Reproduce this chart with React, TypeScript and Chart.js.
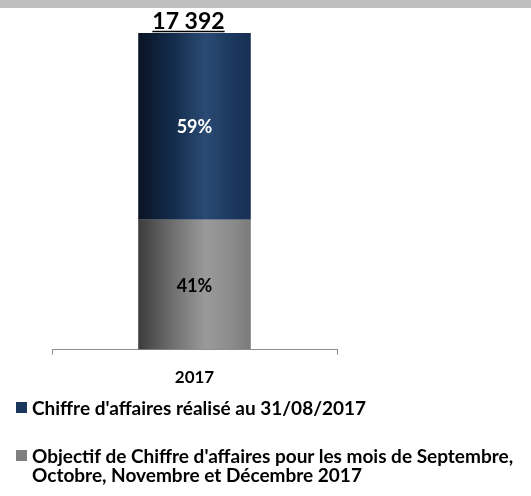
import React, { useEffect, useRef } from "react";
import { Chart, registerables } from "chart.js";
Chart.register(...registerables);

const categories = ["2017"];
const realise = [10261];
const objectif = [7131];
const labelRealise = "Chiffre d'affaires réalisé au 31/08/2017";
const labelObjectif = "Objectif de Chiffre d'affaires pour les mois de Septembre,\nOctobre, Novembre et Décembre 2017";

const FONT = "Lato, 'Open Sans', sans-serif";
const CAT_PCT = 1;
const BAR_PCT = 0.395;
const NAVY = "#1b365c";
const GREY = "#7f7f7f";

const navyStops: [number, string][] = [
  [0, "#0a1424"],
  [0.3, "#132b4b"],
  [0.6, "#2b4b74"],
  [0.8, "#1d3a61"],
  [1, "#172f52"],
];
const greyStops: [number, string][] = [
  [0, "#3c3c3c"],
  [0.3, "#6e6e6e"],
  [0.6, "#9a9a9a"],
  [0.85, "#8a8a8a"],
  [1, "#7a7a7a"],
];

const makeGrad = (stops: [number, string][], fallback: string) => (ctx: any) => {
  const chart = ctx.chart;
  const ca = chart.chartArea;
  const xs = chart.scales && chart.scales.x;
  if (!ca || !xs || ctx.dataIndex === undefined) return fallback;
  const cx = xs.getPixelForValue(ctx.dataIndex);
  const w = ((ca.right - ca.left) / categories.length) * CAT_PCT * BAR_PCT;
  const g = chart.ctx.createLinearGradient(cx - w / 2, 0, cx + w / 2, 0);
  stops.forEach(([o, c]) => g.addColorStop(o, c));
  return g;
};

const fmt = (n: number) => String(Math.round(n)).replace(/\B(?=(\d{3})+(?!\d))/g, " ");

const labelsPlugin = {
  id: "customLabels",
  beforeDraw(chart: any) {
    const c = chart.ctx;
    c.save();
    c.fillStyle = "#bfbfbf";
    c.fillRect(0, 0, chart.width, 8);
    c.restore();
  },
  afterDatasetsDraw(chart: any) {
    const c = chart.ctx;
    const n = chart.data.datasets.length;
    categories.forEach((_, i) => {
      const total = chart.data.datasets.reduce((s: number, d: any) => s + d.data[i], 0);
      chart.data.datasets.forEach((d: any, di: number) => {
        const el = chart.getDatasetMeta(di).data[i];
        const pct = Math.round((d.data[i] / total) * 100) + "%";
        c.save();
        c.font = `bold 18px ${FONT}`;
        c.fillStyle = di === n - 1 ? "#ffffff" : "#000000";
        c.textAlign = "center";
        c.textBaseline = "middle";
        c.fillText(pct, el.x, (el.y + el.base) / 2 + 1);
        c.restore();
      });
      const top = chart.getDatasetMeta(n - 1).data[i];
      const txt = fmt(total);
      c.save();
      c.font = `bold 23px ${FONT}`;
      c.fillStyle = "#000000";
      c.textAlign = "center";
      c.textBaseline = "alphabetic";
      const tx = top.x - 6;
      c.fillText(txt, tx, top.y - 4);
      const w = c.measureText(txt).width;
      c.strokeStyle = "#000000";
      c.lineWidth = 1.5;
      c.beginPath();
      c.moveTo(tx - w / 2, top.y - 1.5);
      c.lineTo(tx + w / 2, top.y - 1.5);
      c.stroke();
      c.restore();
    });
  },
};

export default function App() {
  const ref = useRef<HTMLCanvasElement>(null);
  useEffect(() => {
    if (!ref.current) return;
    const chart = new Chart(ref.current, {
      type: "bar",
      data: {
        labels: categories,
        datasets: [
          {
            label: labelObjectif,
            data: objectif,
            backgroundColor: makeGrad(greyStops, GREY),
            categoryPercentage: CAT_PCT,
            barPercentage: BAR_PCT,
          },
          {
            label: labelRealise,
            data: realise,
            backgroundColor: makeGrad(navyStops, NAVY),
            categoryPercentage: CAT_PCT,
            barPercentage: BAR_PCT,
          },
        ],
      },
      options: {
        responsive: false,
        animation: false,
        layout: { padding: { left: 52, right: 194, top: 33, bottom: 95 } },
        plugins: { legend: { display: false }, tooltip: { enabled: false }, title: { display: false } },
        scales: {
          x: {
            stacked: true,
            offset: true,
            grid: { display: true, drawOnChartArea: false, offset: true, color: "#8c8c8c", tickLength: 5 },
            border: { display: true, color: "#8c8c8c" },
            ticks: { color: "#000000", padding: 13, font: { family: FONT, size: 17, weight: "bold" } },
          },
          y: {
            stacked: true,
            display: false,
            min: 0,
            max: realise[0] + objectif[0],
          },
        },
      },
      plugins: [labelsPlugin],
    });
    return () => chart.destroy();
  }, []);

  const items = [
    { label: labelRealise, color: NAVY },
    { label: labelObjectif, color: GREY },
  ];

  return (
    <div style={{ position: "absolute", left: 0, top: 0, width: 531, height: 496, background: "#ffffff", overflow: "hidden" }}>
      <canvas ref={ref} width={531} height={496} style={{ position: "absolute", left: 0, top: 0 }} />
      <div style={{ position: "absolute", left: 16, top: 398, fontFamily: FONT, fontWeight: "bold", fontSize: 19, lineHeight: "19px", color: "#000", whiteSpace: "nowrap" }}>
        {items.map((it, i) => (
          <div key={i} style={{ display: "flex", alignItems: "flex-start", marginBottom: 29 }}>
            <span style={{ display: "inline-block", width: 11, height: 11, background: it.color, marginTop: 4, marginRight: 5, flex: "none" }} />
            <span style={{ whiteSpace: "pre" }}>{it.label}</span>
          </div>
        ))}
      </div>
    </div>
  );
}
